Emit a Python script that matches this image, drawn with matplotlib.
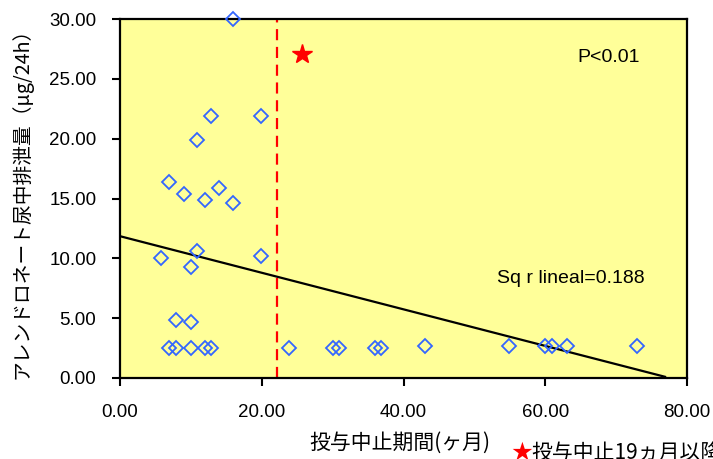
import matplotlib
matplotlib.use('Agg')
import matplotlib.pyplot as plt

# data
months = [16.0, 12.9, 19.9, 10.9, 6.95, 8.97, 14.0, 12.0, 16.0, 10.9, 5.8, 19.9,
          10.0, 7.85, 10.0, 6.95, 7.85, 10.0, 12.0, 12.9, 23.9, 30.0, 30.9, 36.0,
          36.8, 43.1, 54.9, 60.0, 61.0, 63.1, 72.9]
excretion = [30.0, 21.9, 21.9, 19.9, 16.4, 15.4, 15.9, 14.9, 14.6, 10.6, 10.05, 10.2,
             9.25, 4.85, 4.68, 2.5, 2.5, 2.5, 2.5, 2.5, 2.5, 2.5, 2.5, 2.5,
             2.5, 2.65, 2.65, 2.65, 2.65, 2.65, 2.65]
star_x = [25.7]
star_y = [27.05]
fit_x = [0.0, 76.9]
fit_y = [11.85, 0.1]
cutoff = 22.2
xticks = [0, 20, 40, 60, 80]
yticks = [0, 5, 10, 15, 20, 25, 30]

jp = ['Noto Sans CJK JP', 'DejaVu Sans']
num = ['Liberation Sans', 'DejaVu Sans']

fig = plt.figure(figsize=(7.13, 4.59), dpi=100)
ax = fig.add_axes([120 / 713, 81 / 459, 567 / 713, 359 / 459])
ax.set_facecolor('#FFFF99')

ax.plot(fit_x, fit_y, color='black', lw=1.6, zorder=2)
ax.axvline(cutoff, color='#FF0000', lw=1.6, linestyle=(0, (5, 3)), zorder=2)
ax.plot(months, excretion, linestyle='none', marker='D', ms=7.2,
        mfc='none', mec='#3366FF', mew=1.3, zorder=3, clip_on=False)
ax.plot(star_x, star_y, linestyle='none', marker='*', ms=15,
        color='#FF0000', zorder=3)

ax.text(69.0, 26.75, 'P<0.01', ha='center', va='center', fontsize=14, family=num)
ax.text(63.6, 8.3, 'Sq r lineal=0.188', ha='center', va='center', fontsize=14, family=num)

ax.set_xlim(0, 80)
ax.set_ylim(0, 30)
ax.set_xticks(xticks)
ax.set_yticks(yticks)
ax.set_xticklabels(['%.2f' % v for v in xticks], family=num, fontsize=13.5)
ax.set_yticklabels(['%.2f' % v for v in yticks], family=num, fontsize=13.5)
ax.tick_params(direction='out', length=6, width=1.5, color='black')
ax.tick_params(axis='x', pad=13)
ax.tick_params(axis='y', pad=11)
for sp in ax.spines.values():
    sp.set_linewidth(1.6)
    sp.set_color('black')

ax.set_xlabel('投与中止期間(ヶ月)', family=jp, fontsize=15)
ax.xaxis.set_label_coords((400 - 120) / 567, -(432 - 378) / 359)
ax.set_ylabel('アレンドロネート尿中排泄量（μg/24h）', family=jp, fontsize=14.2)
ax.yaxis.set_label_coords(-(120 - 33) / 567, 0.5)

fig.text(511 / 713, 1 - 453 / 459, '★', color='#FF0000', family=jp,
         fontsize=15, va='center', ha='left')
fig.text(531 / 713, 1 - 453 / 459, '投与中止19ヵ月以降', color='black', family=jp,
         fontsize=15, va='center', ha='left')

fig.savefig('out.png', dpi=100)
